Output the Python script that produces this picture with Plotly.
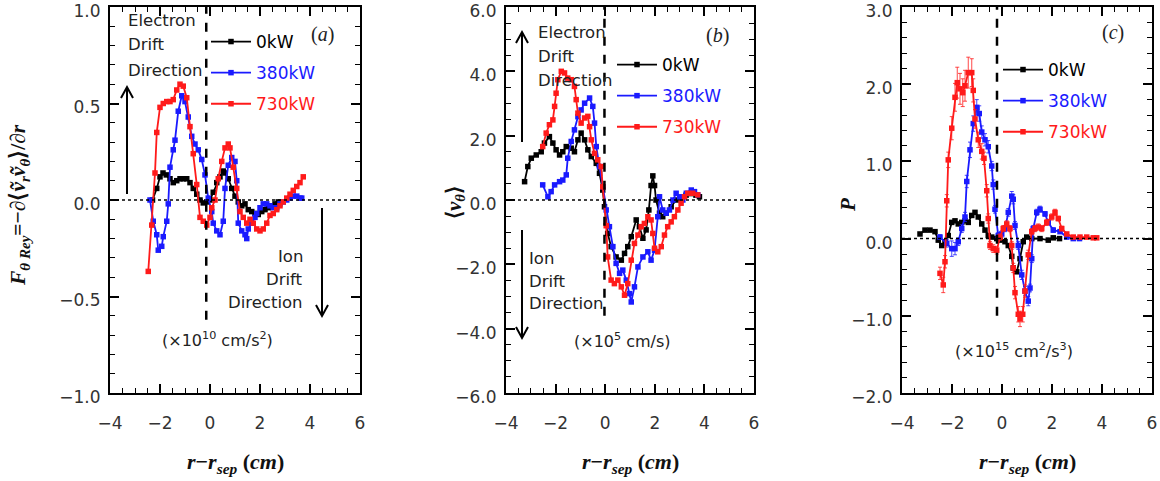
import plotly.graph_objects as go

# ---------------- data ----------------
series_names = ["0kW", "380kW", "730kW"]
series_colors = ["#000000", "#1a1aff", "#ff1a1a"]

# panel (a)  F_theta Rey  (x1e10 cm/s^2)
a_x_0 = [-2.3, -2.13, -2.0, -1.88, -1.75, -1.6, -1.47, -1.33, -1.2, -1.07, -0.93, -0.8, -0.67, -0.53, -0.4, -0.27, -0.13, 0.0, 0.13, 0.27, 0.4, 0.53, 0.6, 0.73, 0.87, 1.0, 1.13, 1.27, 1.4, 1.53, 1.67, 1.8, 1.93, 2.07, 2.2, 2.33, 2.47, 2.6, 2.73]
a_y_0 = [0.0, 0.06, 0.12, 0.14, 0.13, 0.11, 0.09, 0.10, 0.11, 0.11, 0.11, 0.09, 0.06, 0.03, 0.0, -0.015, -0.01, 0.0, 0.04, 0.09, 0.12, 0.15, 0.14, 0.11, 0.06, 0.02, -0.01, -0.03, -0.02, -0.05, -0.06, -0.07, -0.075, -0.06, -0.05, -0.04, -0.03, -0.02, -0.01]
a_x_380 = [-2.4, -2.27, -2.13, -2.07, -1.93, -1.87, -1.73, -1.67, -1.6, -1.47, -1.4, -1.27, -1.13, -1.0, -0.87, -0.73, -0.6, -0.47, -0.33, -0.2, -0.07, 0.07, 0.13, 0.27, 0.4, 0.53, 0.6, 0.73, 0.87, 1.0, 1.07, 1.13, 1.27, 1.4, 1.47, 1.53, 1.67, 1.8, 1.87, 2.0, 2.13, 2.27, 2.4, 2.53, 2.67, 2.8, 2.93, 3.07, 3.2, 3.33, 3.47, 3.6, 3.67]
a_y_380 = [0.0, -0.11, -0.18, -0.26, -0.24, -0.19, -0.11, -0.02, 0.17, 0.26, 0.31, 0.46, 0.54, 0.51, 0.43, 0.33, 0.29, 0.26, 0.21, 0.13, 0.01, -0.06, -0.12, -0.16, -0.18, -0.11, 0.06, 0.18, 0.22, 0.20, 0.10, -0.12, -0.16, -0.18, -0.20, -0.15, -0.12, -0.09, -0.07, -0.04, -0.02, -0.02, -0.03, -0.04, -0.04, -0.02, -0.01, 0.0, 0.01, 0.02, 0.02, 0.01, 0.01]
a_x_730 = [-2.47, -2.33, -2.2, -2.13, -2.0, -1.87, -1.73, -1.6, -1.47, -1.33, -1.2, -1.07, -0.93, -0.8, -0.67, -0.53, -0.4, -0.27, -0.13, 0.0, 0.07, 0.2, 0.33, 0.47, 0.6, 0.73, 0.8, 0.93, 1.07, 1.2, 1.33, 1.47, 1.6, 1.73, 1.87, 2.0, 2.13, 2.27, 2.4, 2.53, 2.67, 2.8, 2.93, 3.07, 3.2, 3.33, 3.47, 3.6, 3.73]
a_y_730 = [-0.37, -0.13, 0.14, 0.35, 0.48, 0.50, 0.51, 0.51, 0.52, 0.57, 0.60, 0.59, 0.53, 0.38, 0.24, 0.08, -0.09, -0.11, -0.13, -0.09, -0.04, 0.0, 0.11, 0.20, 0.27, 0.29, 0.27, 0.17, 0.06, -0.06, -0.09, -0.12, -0.10, -0.12, -0.15, -0.16, -0.15, -0.12, -0.08, -0.07, -0.05, -0.03, -0.01, 0.01, 0.03, 0.05, 0.07, 0.09, 0.12]

# panel (b)  <v_theta>  (x1e5 cm/s)
b_x_0 = [-3.25, -3.12, -2.98, -2.78, -2.58, -2.45, -2.25, -2.11, -1.98, -1.84, -1.71, -1.57, -1.37, -1.24, -1.10, -0.97, -0.83, -0.70, -0.56, -0.36, -0.23, -0.10, -0.03, 0.10, 0.24, 0.44, 0.65, 0.78, 0.91, 1.05, 1.25, 1.38, 1.52, 1.65, 1.76, 1.85, 1.92, 1.99, 2.05, 2.19, 2.32, 2.46, 2.66, 2.86, 3.06, 3.26, 3.46, 3.66, 3.8]
b_y_0 = [0.57, 1.04, 1.30, 1.40, 1.50, 1.77, 1.97, 1.77, 1.56, 1.40, 1.50, 1.66, 1.61, 1.50, 1.87, 2.08, 1.87, 1.56, 1.35, 1.14, 0.83, 0.31, -0.21, -1.04, -1.45, -1.77, -1.87, -1.66, -1.45, -1.14, -0.62, -0.83, -1.19, -0.93, -0.31, 0.45, 0.75, 0.45, 0.0, -0.41, -0.52, -0.41, -0.21, 0.0, 0.05, 0.15, 0.2, 0.15, 0.1]
b_x_380 = [-2.52, -2.31, -2.18, -2.04, -1.84, -1.71, -1.57, -1.51, -1.37, -1.24, -1.10, -0.97, -0.83, -0.63, -0.50, -0.43, -0.36, -0.23, -0.10, 0.04, 0.17, 0.31, 0.44, 0.58, 0.71, 0.85, 0.98, 1.05, 1.18, 1.32, 1.52, 1.72, 1.85, 1.99, 2.12, 2.19, 2.32, 2.46, 2.59, 2.73, 2.86, 3.0, 3.13, 3.27, 3.47, 3.60, 3.73]
b_y_380 = [0.47, 0.10, 0.26, 0.47, 0.57, 0.62, 0.78, 1.30, 1.82, 2.18, 2.59, 2.80, 3.01, 3.17, 2.91, 2.39, 1.66, 1.04, 0.41, -0.31, -0.83, -1.45, -1.97, -2.28, -2.18, -2.49, -2.91, -3.17, -2.70, -2.08, -1.77, -1.61, -1.87, -1.56, -0.52, 0.10, -0.31, -0.41, -0.31, 0.0, 0.21, 0.10, 0.0, 0.21, 0.31, 0.26, 0.16]
b_x_730 = [-2.52, -2.38, -2.25, -2.11, -2.04, -1.98, -1.91, -1.77, -1.64, -1.51, -1.37, -1.24, -1.17, -1.10, -0.97, -0.83, -0.70, -0.63, -0.56, -0.43, -0.30, -0.16, -0.10, 0.04, 0.10, 0.24, 0.37, 0.51, 0.65, 0.78, 0.91, 1.05, 1.18, 1.32, 1.45, 1.58, 1.72, 1.85, 1.92, 1.99, 2.12, 2.26, 2.39, 2.52, 2.66, 2.79, 2.93, 3.06, 3.20, 3.33, 3.53, 3.73]
b_y_730 = [1.66, 2.08, 2.34, 2.49, 2.91, 3.32, 3.74, 4.0, 3.95, 3.79, 3.74, 3.53, 3.12, 2.70, 2.39, 2.55, 2.60, 2.28, 1.87, 1.45, 1.25, 1.04, 0.41, -0.8, -1.77, -2.49, -2.60, -2.49, -2.70, -2.96, -2.60, -1.87, -1.35, -1.09, -0.83, -0.73, -0.52, -0.62, -1.04, -1.50, -1.61, -1.45, -1.09, -0.83, -0.68, -0.52, -0.31, -0.10, 0.10, 0.21, 0.21, 0.16]

# panel (c)  P  (x1e15 cm^2/s^3)
c_x_0 = [-3.28, -3.08, -2.88, -2.68, -2.55, -2.41, -2.28, -2.15, -2.01, -1.88, -1.75, -1.61, -1.48, -1.35, -1.21, -1.08, -0.95, -0.81, -0.68, -0.55, -0.41, -0.21, -0.08, 0.12, 0.25, 0.39, 0.45, 0.59, 0.72, 0.85, 0.99, 1.19, 1.52, 1.85, 2.05, 2.3]
c_y_0 = [0.06, 0.11, 0.11, 0.09, -0.02, -0.09, -0.04, 0.04, 0.21, 0.23, 0.19, 0.21, 0.23, 0.21, 0.30, 0.34, 0.28, 0.19, 0.11, 0.04, 0.02, 0.0, -0.02, -0.04, -0.09, -0.23, -0.38, -0.43, -0.26, -0.04, 0.02, 0.0, 0.0, -0.02, 0.01, 0.0]
c_x_380 = [-2.48, -2.21, -2.01, -1.88, -1.75, -1.61, -1.48, -1.41, -1.28, -1.15, -1.01, -0.91, -0.81, -0.68, -0.55, -0.41, -0.35, -0.28, -0.15, -0.01, 0.12, 0.25, 0.39, 0.45, 0.52, 0.65, 0.79, 0.92, 1.05, 1.12, 1.19, 1.25, 1.39, 1.52, 1.72, 1.85, 2.05, 2.32, 2.59, 2.85, 3.1]
c_y_380 = [0.02, -0.06, -0.13, -0.13, -0.04, 0.13, 0.28, 0.74, 1.15, 1.49, 1.70, 1.62, 1.38, 1.28, 1.19, 0.94, 0.70, 0.38, 0.04, 0.06, 0.13, 0.34, 0.55, 0.51, 0.17, -0.09, -0.47, -0.68, -0.81, -0.64, -0.26, 0.13, 0.34, 0.38, 0.32, 0.21, 0.11, 0.09, 0.02, 0.0, 0.0]
c_err_380 = [0.03, 0.05, 0.1, 0.08, 0.05, 0.05, 0.06, 0.08, 0.1, 0.1, 0.1, 0.1, 0.08, 0.08, 0.08, 0.06, 0.06, 0.05, 0.04, 0.04, 0.04, 0.05, 0.06, 0.06, 0.05, 0.05, 0.06, 0.06, 0.06, 0.05, 0.05, 0.04, 0.04, 0.04, 0.03, 0.03, 0.03, 0.02, 0.02, 0.02, 0.02]
c_x_730 = [-2.48, -2.35, -2.28, -2.21, -2.15, -2.01, -1.88, -1.79, -1.68, -1.57, -1.48, -1.35, -1.21, -1.15, -1.08, -0.95, -0.81, -0.72, -0.61, -0.55, -0.48, -0.35, -0.21, -0.08, 0.05, 0.19, 0.32, 0.39, 0.45, 0.52, 0.65, 0.72, 0.83, 0.92, 1.05, 1.19, 1.32, 1.45, 1.59, 1.79, 1.99, 2.12, 2.25, 2.39, 2.59, 2.85, 3.12, 3.39, 3.65, 3.79]
c_y_730 = [-0.45, -0.60, -0.30, 0.49, 1.02, 1.43, 1.83, 2.02, 1.94, 1.89, 1.98, 2.15, 2.15, 1.92, 1.55, 1.28, 1.13, 1.04, 0.62, 0.26, -0.09, -0.13, -0.15, 0.02, 0.13, 0.19, 0.13, -0.09, -0.38, -0.70, -0.98, -1.04, -0.98, -0.68, -0.21, 0.09, 0.13, 0.15, 0.13, 0.21, 0.28, 0.34, 0.26, 0.13, 0.06, 0.02, 0.02, 0.02, 0.01, 0.01]
c_err_730 = [0.08, 0.1, 0.08, 0.08, 0.1, 0.15, 0.18, 0.2, 0.2, 0.18, 0.2, 0.2, 0.18, 0.15, 0.12, 0.1, 0.1, 0.08, 0.08, 0.06, 0.05, 0.05, 0.05, 0.04, 0.04, 0.04, 0.04, 0.05, 0.06, 0.08, 0.1, 0.1, 0.1, 0.08, 0.06, 0.04, 0.04, 0.04, 0.04, 0.04, 0.04, 0.04, 0.03, 0.03, 0.02, 0.02, 0.02, 0.02, 0.02, 0.02]

x_range = [-4, 6]
x_ticks = [-4, -2, 0, 2, 4, 6]
y_ranges = [[-1.0, 1.0], [-6.0, 6.0], [-2.0, 3.0]]
y_dticks = [0.5, 2.0, 1.0]
y_minor = [0.1, 0.5, 0.2]
# separatrix marker: x position and lower end (data units)
sep_x = [-0.15, -0.03, -0.2]
sep_y_bottom = [-0.62, -3.6, -1.0]
units_text = ["(×10<sup>10</sup> cm/s<sup>2</sup>)", "(×10<sup>5</sup> cm/s)", "(×10<sup>15</sup> cm<sup>2</sup>/s<sup>3</sup>)"]
panel_tags = ["(<i>a</i>)", "(<i>b</i>)", "(<i>c</i>)"]

# ---------------- layout geometry ----------------
W, H = 1160, 481
def px(x): return x / W
def py(y): return 1 - y / H

x_domains = [[px(110), px(360)], [px(506), px(754)], [px(902), px(1152)]]
y_domain = [py(393), py(7)]

fig = go.Figure()

panels = [
    [(a_x_0, a_y_0, None), (a_x_380, a_y_380, None), (a_x_730, a_y_730, None)],
    [(b_x_0, b_y_0, None), (b_x_380, b_y_380, None), (b_x_730, b_y_730, None)],
    [(c_x_0, c_y_0, None), (c_x_380, c_y_380, c_err_380), (c_x_730, c_y_730, c_err_730)],
]
legend_ids = ["legend", "legend2", "legend3"]

for p, series in enumerate(panels):
    xa = "x" if p == 0 else f"x{p+1}"
    ya = "y" if p == 0 else f"y{p+1}"
    for s, (xs, ys, err) in enumerate(series):
        col = series_colors[s]
        tr = dict(
            x=xs, y=ys, xaxis=xa, yaxis=ya, mode="lines+markers",
            line=dict(color=col, width=1.8),
            marker=dict(symbol="square", size=5.5, color=col),
            name=f"<span style='color:{col}'>{series_names[s]}</span>",
            legend=legend_ids[p], legendgroup=f"g{p}{s}", showlegend=True,
        )
        if err is not None:
            tr["error_y"] = dict(type="data", array=err, color=col, thickness=0.8, width=2)
        fig.add_trace(go.Scatter(**tr))

tickfont = dict(family="DejaVu Sans", size=17, color="#333333")
layout = dict(
    width=W, height=H, margin=dict(l=0, r=0, t=0, b=0, autoexpand=False),
    paper_bgcolor="white", plot_bgcolor="white", showlegend=True,
)
for p in range(3):
    xk = "xaxis" if p == 0 else f"xaxis{p+1}"
    yk = "yaxis" if p == 0 else f"yaxis{p+1}"
    ya = "y" if p == 0 else f"y{p+1}"
    xa = "x" if p == 0 else f"x{p+1}"
    layout[xk] = dict(
        domain=x_domains[p], range=x_range, anchor=ya, tickvals=x_ticks, automargin=False,
        ticklabeloverflow="allow",
        showline=True, linecolor="black", linewidth=2, mirror="allticks",
        ticks="inside", ticklen=9, tickwidth=1.5, tickcolor="black",
        showgrid=False, zeroline=False, tickfont=tickfont, ticklabelstandoff=14,
        minor=dict(ticks="inside", ticklen=5, tickwidth=1.2, dtick=0.5, tickcolor="black", showgrid=False),
    )
    layout[yk] = dict(
        domain=y_domain, range=y_ranges[p], anchor=xa, dtick=y_dticks[p], tick0=0, automargin=False,
        ticklabeloverflow="allow", tickformat=".1f", ticklabelshift=4,
        showline=True, linecolor="black", linewidth=2, mirror="allticks",
        ticks="inside", ticklen=9, tickwidth=1.5, tickcolor="black",
        showgrid=False, zeroline=False, tickfont=tickfont, ticklabelstandoff=4,
        minor=dict(ticks="inside", ticklen=5, tickwidth=1.2, dtick=y_minor[p], tickcolor="black", showgrid=False),
    )

legend_pos = [(206, 24), (612, 47), (998, 52)]
for p, lid in enumerate(legend_ids):
    lx, ly = legend_pos[p]
    layout[lid] = dict(
        x=px(lx), y=py(ly), xanchor="left", yanchor="top",
        bgcolor="rgba(0,0,0,0)", borderwidth=0,
        font=dict(family="DejaVu Sans", size=17, color="black"),
        itemwidth=40, tracegroupgap=6, itemclick=False,
    )
fig.update_layout(**layout)

# shapes: zero lines and separatrix
shapes = []
for p in range(3):
    xa = "x" if p == 0 else f"x{p+1}"
    ya = "y" if p == 0 else f"y{p+1}"
    shapes.append(dict(type="line", xref=f"{xa} domain", yref=ya, x0=0, x1=1, y0=0, y1=0,
                       line=dict(color="black", width=1.5, dash="dot")))
    shapes.append(dict(type="line", xref=xa, yref=ya, x0=sep_x[p], x1=sep_x[p],
                       y0=sep_y_bottom[p], y1=y_ranges[p][1],
                       line=dict(color="black", width=2.5, dash="dash")))

def arrow(x, y_tail, y_head):
    hx, hy = px(x), py(y_head)
    d = 1 if y_head < y_tail else -1
    out = [dict(type="line", xref="paper", yref="paper", x0=px(x), x1=px(x), y0=py(y_tail), y1=hy,
                line=dict(color="black", width=2))]
    out.append(dict(type="path", xref="paper", yref="paper",
                    path=f"M {px(x-6)},{py(y_head + d*11)} L {hx},{hy} L {px(x+6)},{py(y_head + d*11)}",
                    line=dict(color="black", width=2)))
    return out

shapes += arrow(127, 194, 87)
shapes += arrow(322, 208, 316)
shapes += arrow(522, 142, 32)
shapes += arrow(522, 230, 338)
fig.update_layout(shapes=shapes)

ann = []
txtfont = dict(family="DejaVu Sans", size=16.5, color="#222222")
def label(text, x, y, anchor="left"):
    ann.append(dict(text=text, x=px(x), y=py(y), xref="paper", yref="paper", showarrow=False,
                    xanchor=anchor, yanchor="middle", font=txtfont))

for t, yy in zip(["Electron", "Drift", "Direction"], [20, 45, 70]):
    label(t, 126, yy)
for t, yy in zip(["Ion", "Drift", "Direction"], [256, 279, 302]):
    label(t, 305, yy, "right")
for t, yy in zip(["Electron", "Drift", "Direction"], [33, 57, 80]):
    label(t, 536, yy)
for t, yy in zip(["Ion", "Drift", "Direction"], [258, 281, 303]):
    label(t, 527, yy)

def centered(text, x, y, font, angle=0):
    ann.append(dict(text=text, x=px(x), y=py(y), xref="paper", yref="paper", showarrow=False,
                    xanchor="center", yanchor="middle", textangle=angle, font=font))

serif = "Liberation Serif"
tag_pos = [(322, 34), (717, 35), (1113, 33)]
for p in range(3):
    centered(panel_tags[p], tag_pos[p][0], tag_pos[p][1], dict(family=serif, size=20, color="#222"))
unit_pos = [(218, 339), (622, 340), (1014, 350)]
for p in range(3):
    centered(units_text[p], unit_pos[p][0], unit_pos[p][1], dict(family="DejaVu Sans", size=16, color="#222"))

xtitle = "<b><i>r</i>−<i>r<sub>sep</sub></i> (<i>cm</i>)</b>"
for cx in [235, 630, 1027]:
    centered(xtitle, cx, 463, dict(family=serif, size=22, color="#111"))

ytitles = [
    ("<b><i>F<sub>θ Rey</sub></i>=−∂⟨<i>ṽ<sub>r</sub>ṽ<sub>θ</sub></i>⟩/∂<i>r</i></b>", 20, 205, 21.5),
    ("<b>⟨<i>v<sub>θ</sub></i>⟩</b>", 455, 203, 21),
    ("<b><i>P</i></b>", 848, 205, 21),
]
for t, x, y, fs in ytitles:
    centered(t, x, y, dict(family=serif, size=fs, color="#111"), angle=-90)

fig.update_layout(annotations=ann)
fig.write_html("out.html", config={"displayModeBar": False},
               post_script="document.body.style.margin='0';")
